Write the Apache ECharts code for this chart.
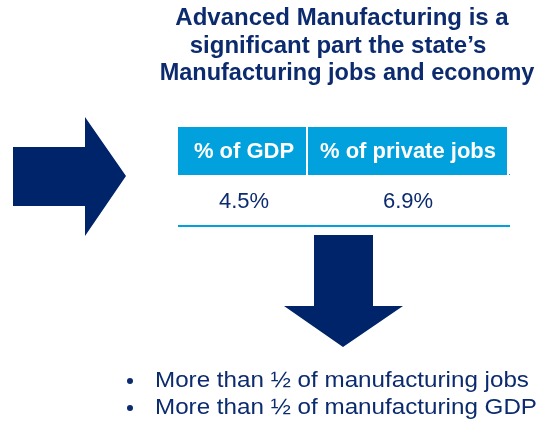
<!DOCTYPE html>
<html>
<head>
<meta charset="utf-8">
<script src="https://cdn.jsdelivr.net/npm/echarts@6/dist/echarts.min.js"></script>
<style>
  html, body { margin: 0; padding: 0; background: #ffffff; }
  #main { width: 549px; height: 424px; }
</style>
</head>
<body>
<div id="main"></div>
<script>
// Headline text, one entry per line
const titleLines = [
  'Advanced Manufacturing is a',
  'significant part the state\u2019s',
  'Manufacturing jobs and economy'
];
// Table columns and their values
const tableHeaders = ['% of GDP', '% of private jobs'];
const tableValues = [4.5, 6.9];
// Bullet points under the down arrow
const bulletItems = [
  'More than \u00bd of manufacturing jobs',
  'More than \u00bd of manufacturing GDP'
];

const NAVY = '#002469';
const TITLE = '#0c2b6f';
const BLUE = '#00a1dc';
const FONT = '"Liberation Sans", Arial, sans-serif';

const chart = echarts.init(document.getElementById('main'), null, { renderer: 'canvas' });

const titleCenters = [342, 338, 347];
const titleY = [18, 46, 74];
const titleSize = [24, 24, 23.5];

const elements = [];

// headline
titleLines.forEach((line, i) => {
  elements.push({
    type: 'text',
    style: {
      text: line, x: titleCenters[i], y: titleY[i],
      font: 'bold ' + titleSize[i] + 'px ' + FONT, fill: TITLE,
      textAlign: 'center', textVerticalAlign: 'middle'
    }
  });
});

// right-pointing arrow
elements.push({
  type: 'polygon',
  shape: { points: [[13, 147], [85, 147], [85, 117], [126, 176], [85, 236], [85, 206], [13, 206]] },
  style: { fill: NAVY }
});

// table header band
const colX = [178, 307, 507];
elements.push({
  type: 'rect',
  shape: { x: colX[0], y: 127, width: colX[2] - colX[0], height: 48 },
  style: { fill: BLUE }
});
elements.push({
  type: 'rect',
  shape: { x: colX[1] - 1, y: 127, width: 2, height: 48 },
  style: { fill: '#ffffff' }
});
tableHeaders.forEach((h, i) => {
  const cx = i === 0 ? 244 : 408;
  elements.push({
    type: 'text',
    style: {
      text: h, x: cx, y: 152,
      font: 'bold 22px ' + FONT, fill: '#ffffff',
      textAlign: 'center', textVerticalAlign: 'middle'
    }
  });
  elements.push({
    type: 'text',
    style: {
      text: tableValues[i].toFixed(1) + '%', x: cx, y: 202,
      font: '22px ' + FONT, fill: TITLE,
      textAlign: 'center', textVerticalAlign: 'middle'
    }
  });
});
// table bottom rule
elements.push({
  type: 'rect',
  shape: { x: 178, y: 225, width: 332, height: 2 },
  style: { fill: BLUE }
});
elements.push({
  type: 'rect',
  shape: { x: 509, y: 174, width: 1, height: 1 },
  style: { fill: BLUE }
});

// down-pointing arrow
elements.push({
  type: 'polygon',
  shape: { points: [[314, 235], [373, 235], [373, 306], [403, 306], [343, 347], [284, 306], [314, 306]] },
  style: { fill: NAVY }
});

// bullets
bulletItems.forEach((b, i) => {
  const y = 381 + i * 27;
  elements.push({
    type: 'circle',
    shape: { cx: 130, cy: y, r: 3 },
    style: { fill: TITLE }
  });
  elements.push({
    type: 'text',
    x: 155, y: y, scaleX: 1.1,
    style: {
      text: b, x: 0, y: 0,
      font: '22px ' + FONT, fill: TITLE,
      textAlign: 'left', textVerticalAlign: 'middle'
    }
  });
});

chart.setOption({
  backgroundColor: '#ffffff',
  animation: false,
  graphic: { elements: elements }
});
</script>
</body>
</html>
